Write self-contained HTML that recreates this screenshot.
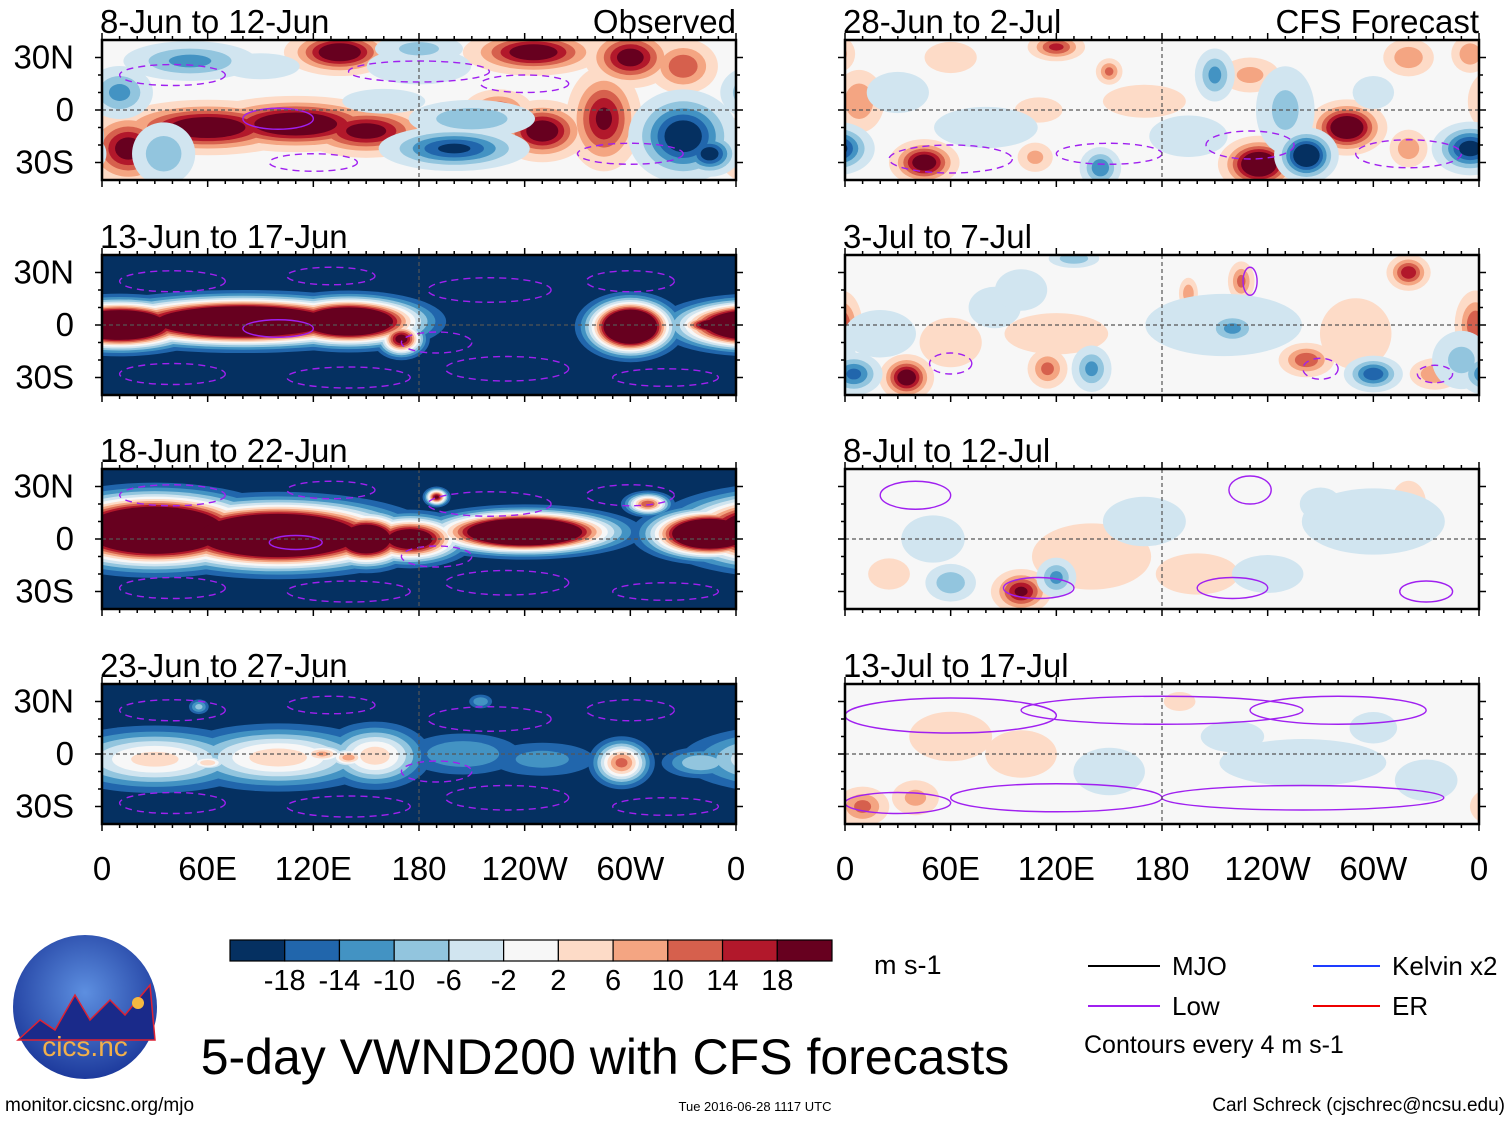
<!DOCTYPE html>
<html><head><meta charset="utf-8">
<style>
body{margin:0;background:#fff;width:1510px;height:1121px;overflow:hidden;font-family:"Liberation Sans",sans-serif;}
svg text{font-family:"Liberation Sans",sans-serif;}
</style></head>
<body>
<svg id="fig" width="1510" height="1121" viewBox="0 0 1510 1121" xmlns="http://www.w3.org/2000/svg">
<g id="panels"></g>
<g id="cbar"></g>
<g>
<defs><radialGradient id="lg" cx="50%" cy="40%" r="60%"><stop offset="0" stop-color="#5d8fe0"/><stop offset="1" stop-color="#1d3a9c"/></radialGradient></defs>
<circle cx="85" cy="1007" r="72" fill="url(#lg)"/>
<path d="M18,1040 L40,1020 L55,1030 L75,995 L90,1020 L110,1000 L125,1015 L150,985 L155,1040 Z" fill="#1a2a8a" stroke="#d23" stroke-width="1.5"/>
<circle cx="138" cy="1003" r="6" fill="#f5b840"/>
<text x="85" y="1056" font-size="28" fill="#f3b04a" text-anchor="middle">cics.nc</text>
</g>
<text x="605" y="1074" font-size="50" text-anchor="middle">5-day VWND200 with CFS forecasts</text>
<text x="5" y="1111" font-size="19">monitor.cicsnc.org/mjo</text>
<text x="755" y="1111" font-size="13" text-anchor="middle">Tue 2016-06-28 1117 UTC</text>
<text x="1505" y="1111" font-size="19" text-anchor="end">Carl Schreck (cjschrec@ncsu.edu)</text>
<text x="874" y="974" font-size="27">m s-1</text>
<g>
<line x1="1088" y1="966" x2="1160" y2="966" stroke="#000" stroke-width="2"/><text x="1172" y="975" font-size="26">MJO</text>
<line x1="1088" y1="1006" x2="1160" y2="1006" stroke="#a020f0" stroke-width="2"/><text x="1172" y="1015" font-size="26">Low</text>
<line x1="1313" y1="966" x2="1380" y2="966" stroke="#1e3cff" stroke-width="2"/><text x="1392" y="975" font-size="26">Kelvin x2</text>
<line x1="1313" y1="1006" x2="1380" y2="1006" stroke="#e00" stroke-width="2"/><text x="1392" y="1015" font-size="26">ER</text>
<text x="1084" y="1053" font-size="25">Contours every 4 m s-1</text>
</g>
</svg>
<script>
const levels=[-18,-14,-10,-6,-2,2,6,10,14,18];
const colors=["#053061","#2166ac","#4393c3","#92c5de","#d1e5f0","#f7f7f7","#fddbc7","#f4a582","#d6604d","#b2182b","#67001f"];
const lonTicks=["0","60E","120E","180","120W","60W","0"];
const latTicks=["30N","0","30S"];
const titles=["8-Jun to 12-Jun","13-Jun to 17-Jun","18-Jun to 22-Jun","23-Jun to 27-Jun","28-Jun to 2-Jul","3-Jul to 7-Jul","8-Jul to 12-Jul","13-Jul to 17-Jul"];
const bgVals=[0,-24,-24,-24,0,0,0,0];
// blobs: [lon, lat, sigmaLon, sigmaLat, peak value (m/s)]
const blobs0=[[60,-10,25,7,26],[110,-8,25,7,28],[150,-12,18,7,22],[15,-22,12,10,22],[135,33,14,6,26],[245,33,18,6,24],[300,30,12,8,22],[330,25,10,8,14],[10,10,10,8,-12],[35,-25,10,10,-10],[200,-22,20,6,-20],[250,-12,12,8,24],[285,-5,10,14,20],[330,-15,14,12,-24],[345,-25,8,6,-22],[50,28,20,6,-12],[90,25,15,5,-6],[180,25,20,7,-6],[210,-5,20,6,-10],[160,5,20,6,-4],[225,0,10,6,14],[180,35,15,5,-8]];
const blobs1=[[10,0,25,8,50],[80,2,45,8,52],[140,2,25,8,46],[170,-8,8,6,22],[300,-1,14,9,52],[350,0,14,4,34]];
const blobs2=[[30,5,35,12,55],[100,2,40,11,55],[150,0,15,9,40],[175,0,18,8,30],[240,4,30,7,52],[345,3,20,8,50],[190,24,4,3,20],[310,20,8,4,14]];
const blobs3=[[30,-3,35,11,4],[100,-2,35,11,5],[155,-1,18,11,5],[125,0,10,4,8],[140,-2,8,4,9],[60,-5,8,3,6],[205,0,25,9,-10],[250,-3,25,8,-12],[295,-5,10,8,12],[340,-5,15,6,-6],[55,27,4,3,-8],[215,30,5,3,-10]];
const blobs4=[[8,5,8,10,10],[45,-30,9,6,24],[108,-27,6,5,8],[235,-31,10,7,30],[262,-26,8,7,-28],[285,-10,10,7,28],[355,-22,10,7,-22],[145,-33,6,6,-14],[210,20,6,8,-12],[250,0,10,15,-8],[320,-22,6,6,10],[355,32,6,6,10],[150,22,4,4,12],[120,36,8,4,16],[320,30,8,6,10],[80,-10,25,10,-4],[30,10,15,10,-4],[170,5,20,8,4],[230,20,10,6,8],[110,0,15,8,3],[300,10,10,8,-4],[60,30,10,6,6],[195,-15,15,8,-6]];
const blobs5=[[35,-30,7,6,24],[5,-28,8,6,-16],[115,-25,6,6,12],[140,-25,6,7,-12],[215,0,30,12,-6],[220,-2,8,5,-12],[300,-28,8,5,-18],[262,-20,8,5,14],[335,-28,8,5,10],[358,0,6,10,14],[320,30,6,5,18],[225,25,4,6,12],[195,18,3,5,10],[85,10,10,8,-6],[130,38,8,3,-10],[20,-5,15,10,-5],[120,-5,25,10,4],[290,-5,15,15,5],[100,20,10,8,-6],[350,-20,10,10,-8],[60,-10,15,12,4]];
const blobs6=[[100,-30,8,6,20],[120,-22,6,6,-12],[60,-25,8,6,-10],[140,-10,25,14,5],[300,10,30,14,-5],[170,10,20,12,-4],[320,20,6,8,8],[240,-20,15,8,-5],[200,-20,20,10,4],[50,0,20,15,-3],[270,20,10,8,-4],[25,-20,8,6,6]];
const blobs7=[[10,-30,8,6,12],[40,-25,8,6,8],[100,0,15,10,5],[150,-10,15,10,-5],[260,-5,35,10,-5],[330,-15,12,8,-6],[190,30,10,6,3],[60,10,20,12,4],[220,10,20,10,-3],[300,15,15,10,-3]];
const allBlobs=[blobs0,blobs1,blobs2,blobs3,blobs4,blobs5,blobs6,blobs7];
// dashed purple low contours per panel: [lon, lat, rLon, rLat]
const lows0=[[40,20,30,6],[180,22,40,6],[300,-25,30,6],[120,-30,25,5],[240,15,25,5]];
const lowsDense=[[40,25,30,6],[130,28,25,5],[220,20,35,7],[300,25,25,6],[40,-28,30,6],[140,-30,35,6],[230,-25,35,7],[320,-30,30,5],[190,-10,20,6]];
const lows4=[[60,-28,35,8],[150,-25,30,6],[230,-20,25,8],[320,-25,30,8]];
const lows5=[[60,-22,12,6],[270,-25,10,6],[335,-28,10,5]];
const allLows=[lows0,lowsDense,lowsDense,lowsDense,lows4,lows5,[],[]];
// solid purple contours
const solids6=[[40,25,20,8],[230,28,12,8],[110,-28,20,6],[220,-28,20,6],[330,-30,15,6]];
const solids7=[[60,22,60,10],[180,25,80,8],[280,25,50,8],[120,-25,60,8],[260,-25,80,7],[30,-28,30,6]];
const allSolids=[[[100,-5,20,6]],[[100,-2,20,5]],[[110,-2,15,4]],[],[],[[230,25,4,8]],solids6,solids7];

const NS="http://www.w3.org/2000/svg";
function mk(tag,attrs,parent){const e=document.createElementNS(NS,tag);for(const k in attrs)e.setAttribute(k,attrs[k]);parent.appendChild(e);return e;}
function colorFor(v){let i=0;while(i<levels.length&&v>levels[i])i++;return colors[i];}
const panelsG=document.getElementById('panels');
const W=634,H=140,lefts=[102,845],tops=[40,255,469,684];
for(let p=0;p<8;p++){
  const x0=lefts[Math.floor(p/4)],y0=tops[p%4];
  const xs=lon=>x0+lon*W/360, ys=lat=>y0+H/2-lat*1.75;
  const g=mk('g',{},panelsG);
  
  
  const cp=mk('clipPath',{id:'cp'+p},g);
  mk('rect',{x:x0,y:y0,width:W,height:H},cp);
  const fg=mk('g',{'clip-path':'url(#cp'+p+')'},g);
  const b=bgVals[p];
  mk('rect',{x:x0,y:y0,width:W,height:H,fill:colorFor(b)},fg);
  const bl=allBlobs[p];
  const pos=levels.filter(t=>t>b), neg=levels.filter(t=>t<b).reverse();
  [[pos,1],[neg,-1]].forEach(([ts,s])=>{
    ts.forEach(t=>{
      bl.forEach(d=>{
        const a=d[4]-b; if(a*s<=0)return;
        const f=(t-b)/a; if(f<=0||f>=1)return;
        const r=Math.sqrt(2*Math.log(1/f));
        const col=colorFor(t+s*0.5);
        [0,-360,360].forEach(sh=>{
          const lon=d[0]+sh;
          if(lon+r*d[2]<0||lon-r*d[2]>360)return;
          const el=mk('ellipse',{cx:xs(lon),cy:ys(d[1]),rx:r*d[2]*W/360,ry:r*d[3]*1.75,fill:col},fg);
          
          
        });
      });
    });
  });
  allLows[p].forEach(d=>{const el=mk('ellipse',{cx:xs(d[0]),cy:ys(d[1]),rx:d[2]*W/360,ry:d[3]*1.75,fill:'none',stroke:'#a020f0','stroke-width':1.4,'stroke-dasharray':'7 5'},fg);
    });
  allSolids[p].forEach(d=>{const el=mk('ellipse',{cx:xs(d[0]),cy:ys(d[1]),rx:d[2]*W/360,ry:d[3]*1.75,fill:'none',stroke:'#a020f0','stroke-width':1.4},fg);
    });
  mk('line',{x1:x0,y1:ys(0),x2:x0+W,y2:ys(0),stroke:'#555','stroke-width':1.2,'stroke-dasharray':'4 3'},fg);
  mk('line',{x1:xs(180),y1:y0,x2:xs(180),y2:y0+H,stroke:'#555','stroke-width':1.2,'stroke-dasharray':'4 3'},fg);
  mk('rect',{x:x0,y:y0,width:W,height:H,fill:'none',stroke:'#000','stroke-width':2.5},g);
  for(let lon=0;lon<=360;lon+=10){const L=lon%60==0?7:4;
    mk('line',{x1:xs(lon),y1:y0,x2:xs(lon),y2:y0-L,stroke:'#000','stroke-width':1.5},g);
    mk('line',{x1:xs(lon),y1:y0+H,x2:xs(lon),y2:y0+H+L,stroke:'#000','stroke-width':1.5},g);}
  for(let lat=-30;lat<=30;lat+=10){const L=lat%30==0?7:4;
    mk('line',{x1:x0,y1:ys(lat),x2:x0-L,y2:ys(lat),stroke:'#000','stroke-width':1.5},g);
    mk('line',{x1:x0+W,y1:ys(lat),x2:x0+W+L,y2:ys(lat),stroke:'#000','stroke-width':1.5},g);}
  const tt=mk('text',{x:x0-2,y:y0-7,'font-size':33},g);tt.textContent=titles[p];
  
  if(p==0){const o=mk('text',{x:x0+W,y:y0-7,'font-size':33,'text-anchor':'end'},g);o.textContent="Observed";}
  if(p==4){const o=mk('text',{x:x0+W,y:y0-7,'font-size':33,'text-anchor':'end'},g);o.textContent="CFS Forecast";}
  if(p<4){latTicks.forEach((s,i)=>{const t=mk('text',{x:74,y:ys(30-30*i)+11,'font-size':33,'text-anchor':'end'},g);t.textContent=s;
    });}
  if(p%4==3){lonTicks.forEach((s,i)=>{const t=mk('text',{x:xs(i*60),y:880,'font-size':33,'text-anchor':'middle'},g);t.textContent=s;
    });}
}
// colorbar
const cb=document.getElementById('cbar');
const cx0=230,cw=602/colors.length;
colors.forEach((c,i)=>{const r=mk('rect',{x:cx0+i*cw,y:940,width:cw,height:21,fill:c,stroke:'#000','stroke-width':1.2},cb);
  });
levels.forEach((v,i)=>{const t=mk('text',{x:cx0+(i+1)*cw,y:990,'font-size':29,'text-anchor':'middle'},cb);t.textContent=v;
  });
</script>
</body></html>
